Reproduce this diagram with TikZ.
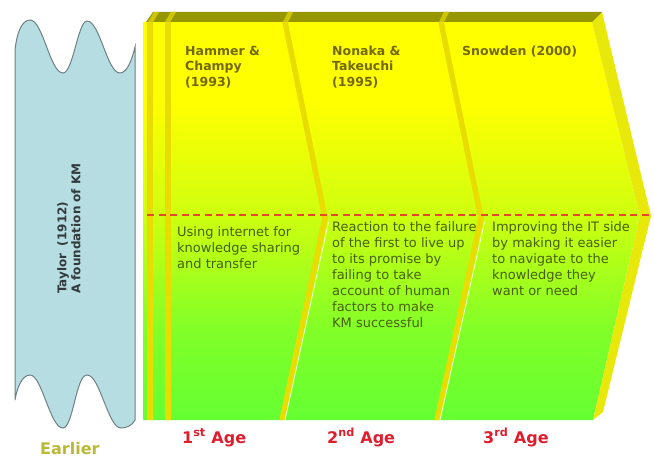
\documentclass[tikz,border=0pt]{standalone}
\usepackage{fontspec}
\setmainfont{DejaVu Sans}
\definecolor{scrollfill}{RGB}{182,221,226}
\definecolor{scrolldraw}{RGB}{110,128,132}
\definecolor{scrolltext}{RGB}{50,58,60}
\definecolor{ylw}{RGB}{255,255,0}
\definecolor{cmid}{RGB}{208,255,15}
\definecolor{clow}{RGB}{128,255,40}
\definecolor{grn}{RGB}{102,255,51}
\definecolor{bandcol}{RGB}{150,150,0}
\definecolor{bandgap}{RGB}{205,198,0}
\definecolor{stripcol}{RGB}{232,220,0}
\definecolor{bevelcol}{RGB}{232,232,10}
\definecolor{dashcol}{RGB}{228,72,40}
\definecolor{titlecol}{RGB}{115,105,10}
\definecolor{bodycol}{RGB}{72,96,12}
\definecolor{agecol}{RGB}{220,30,45}
\definecolor{earlycol}{RGB}{185,185,55}
\pgfdeclareverticalshading{agesh}{100bp}{color(0bp)=(grn); color(25bp)=(grn); color(36bp)=(clow); color(51bp)=(cmid); color(65bp)=(ylw); color(100bp)=(ylw)}
\tikzset{
  scroll/.style={fill=scrollfill, draw=scrolldraw, line width=1pt},
  stripline/.style={draw=stripcol, line width=5.5pt, line join=miter},
  gapline/.style={draw=bandgap, line width=4.5pt},
  glint/.style={draw=white, line width=0.9pt, opacity=0.75},
  titletext/.style={anchor=north west, inner sep=0pt, align=left, font=\bfseries\fontsize{12.5}{15.5}\selectfont, text=titlecol},
  desctext/.style={anchor=north west, inner sep=0pt, align=left, font=\fontsize{13}{16}\selectfont, text=bodycol},
  agetext/.style={anchor=base west, inner sep=0pt, font=\bfseries\fontsize{16}{18}\selectfont, text=agecol},
}
\begin{document}
\begin{tikzpicture}[x=1pt, y=-1pt]
\useasboundingbox (0,0) rectangle (654,457);

% scroll on the left
\draw[scroll] (15,50) .. controls (17,32) and (22,20) .. (30,20)
  .. controls (43,20) and (50,73) .. (63,73)
  .. controls (73,73) and (78,21) .. (87,21)
  .. controls (100,21) and (107,73) .. (120,73)
  .. controls (127,73) and (132,60) .. (135,47)
  -- (135,420)
  .. controls (132,426) and (126,428) .. (121,428)
  .. controls (108,428) and (100,375) .. (87,375)
  .. controls (76,375) and (73,428) .. (63,428)
  .. controls (50,428) and (42,375) .. (30,375)
  .. controls (22,375) and (17,388) .. (15,400)
  -- cycle;
\node[anchor=north west, rotate=90, inner sep=0pt, align=left,
      font=\bfseries\fontsize{12}{13}\selectfont, text=scrolltext]
  (taylor) at (57,294) {\strut Taylor\hspace{0.6em}(1912)\\A foundation of KM};
\node[anchor=base west, inner sep=0pt, font=\bfseries\fontsize{16}{18}\selectfont, text=earlycol]
  (earlier) at (40,454) {Earlier};

% chevron body
\path[shading=agesh] (143,22) -- (592,22) -- (640,216) -- (593,420) -- (143,420) -- cycle;
% right bevel
\fill[bevelcol] (592,22) -- (602,12) -- (651,216) -- (603,412) -- (593,420) -- (640,216) -- cycle;
% top band
\fill[bandcol] (146,22) -- (153,12) -- (602,12) -- (592,22) -- cycle;

% strips in the body
\begin{scope}
  \clip (143,22) -- (592,22) -- (640,216) -- (593,420) -- (143,420) -- cycle;
  \draw[stripline] (150,10) -- (150,430);
  \draw[stripline] (168,10) -- (168,430);
  \draw[stripline] (283,12) -- (325,218) -- (280,430);
  \draw[stripline] (439,12) -- (481,218) -- (435,430);
  \draw[glint] (328.5,222) -- (285,420);
  \draw[glint] (484.5,222) -- (440,420);
\end{scope}
% gaps in the top band
\begin{scope}
  \clip (146,22) -- (153,12) -- (602,12) -- (592,22) -- cycle;
  \draw[gapline] (150,23) -- (157,11);
  \draw[gapline] (167,23) -- (174,11);
  \draw[gapline] (285,23) -- (291,11);
  \draw[gapline] (441,23) -- (447,11);
\end{scope}

% dashed line
\draw[dashcol, line width=2.2pt, dash pattern=on 7pt off 4.5pt] (147,215) -- (652,215);

% titles
\node[titletext] (t1) at (185,44.2) {\strut Hammer \&\\Champy\\(1993)};
\node[titletext] (t2) at (332,44.2) {\strut Nonaka \&\\Takeuchi\\(1995)};
\node[titletext] (t3) at (462,44.2) {\strut Snowden (2000)};

% descriptions
\node[desctext] (d1) at (177,224.8) {\strut Using internet for\\knowledge sharing\\and transfer};
\node[desctext] (d2) at (332,219.8) {\strut Reaction to the failure\\of the first to live up\\to its promise by\\failing to take\\account of human\\factors to make\\KM successful};
\node[desctext] (d3) at (492,219.8) {\strut Improving the IT side\\by making it easier\\to navigate to the\\knowledge they\\want or need};

% ages
\node[agetext] (a1) at (182,443) {1\textsuperscript{st} Age};
\node[agetext] (a2) at (327,443) {2\textsuperscript{nd} Age};
\node[agetext] (a3) at (483,443) {3\textsuperscript{rd} Age};
\end{tikzpicture}
\end{document}
